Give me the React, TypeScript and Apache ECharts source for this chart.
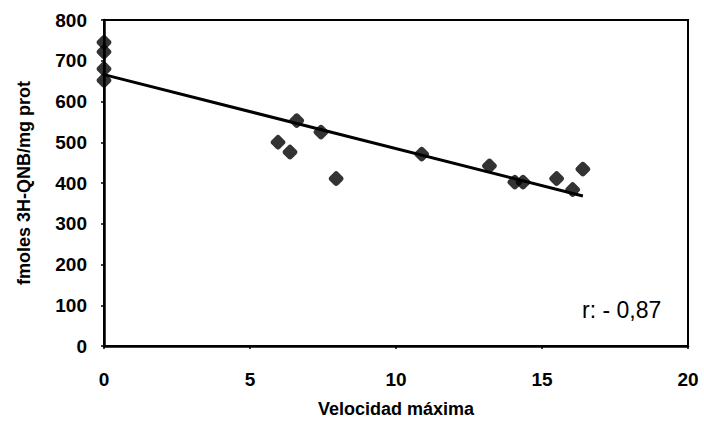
import React, { useEffect, useRef } from "react";
import * as echarts from "echarts";

const velocidad = [0, 0, 0, 0, 5.96, 6.37, 6.6, 7.43, 7.95, 10.88, 13.2, 14.07, 14.35, 15.5, 16.05, 16.4];
const fmoles = [745, 722, 680, 652, 500, 476, 553, 525, 411, 471, 442, 402, 402, 411, 384, 434];
const xTicks = [0, 5, 10, 15, 20];
const yTicks = [0, 100, 200, 300, 400, 500, 600, 700, 800];
const rLabel = "r: - 0,87";
const xTitle = "Velocidad máxima";
const yTitle = "fmoles 3H-QNB/mg prot";

function fit(xs: number[], ys: number[]) {
  const n = xs.length;
  const mx = xs.reduce((a, b) => a + b, 0) / n;
  const my = ys.reduce((a, b) => a + b, 0) / n;
  let sxy = 0, sxx = 0;
  for (let i = 0; i < n; i++) {
    sxy += (xs[i] - mx) * (ys[i] - my);
    sxx += (xs[i] - mx) * (xs[i] - mx);
  }
  const slope = sxy / sxx;
  return { slope, intercept: my - slope * mx };
}

export default function App() {
  const ref = useRef<HTMLDivElement>(null);
  useEffect(() => {
    if (!ref.current) return;
    const chart = echarts.init(ref.current, undefined, { renderer: "svg" });
    const { slope, intercept } = fit(velocidad, fmoles);
    const xMin = Math.min(...velocidad);
    const xMax = Math.max(...velocidad);
    const lineData = [
      [xMin, intercept + slope * xMin],
      [xMax, intercept + slope * xMax],
    ];
    const font = "'Liberation Sans', Arial, sans-serif";
    chart.setOption({
      animation: false,
      backgroundColor: "#fff",
      grid: {
        left: 104,
        right: 16,
        top: 20,
        bottom: 75,
        show: true,
        borderColor: "#000",
        borderWidth: 2,
      },
      xAxis: {
        type: "value",
        min: xTicks[0],
        max: xTicks[xTicks.length - 1],
        interval: 5,
        name: xTitle,
        nameLocation: "middle",
        nameGap: 54,
        nameTextStyle: { fontFamily: font, fontSize: 18, fontWeight: "bold", color: "#000" },
        axisLine: { show: true, onZero: false, lineStyle: { color: "#000", width: 2.5 } },
        axisTick: { show: true, length: 3, lineStyle: { color: "#000", width: 1.5 } },
        axisLabel: { fontFamily: font, fontSize: 19, fontWeight: "bold", color: "#000", margin: 24 },
        splitLine: { show: false },
      },
      yAxis: {
        type: "value",
        min: yTicks[0],
        max: yTicks[yTicks.length - 1],
        interval: 100,
        name: yTitle,
        nameLocation: "middle",
        nameGap: 71,
        nameTextStyle: { fontFamily: font, fontSize: 18, fontWeight: "bold", color: "#000" },
        axisLine: { show: true, onZero: false, lineStyle: { color: "#000", width: 2.5 } },
        axisTick: { show: true, length: 3, lineStyle: { color: "#000", width: 1.5 } },
        axisLabel: { fontFamily: font, fontSize: 19, fontWeight: "bold", color: "#000", margin: 17 },
        splitLine: { show: false },
      },
      series: [
        {
          type: "line",
          data: lineData,
          showSymbol: false,
          symbol: "none",
          lineStyle: { color: "#000", width: 3 },
          z: 2,
        },
        {
          type: "scatter",
          data: velocidad.map((v, i) => [v, fmoles[i]]),
          symbol: "roundRect",
          symbolSize: 12,
          symbolRotate: 45,
          itemStyle: { color: "#000" },
          z: 3,
        },
      ],
      graphic: [
        {
          type: "text",
          left: 582,
          top: 298,
          style: { text: rLabel, fontFamily: font, fontSize: 23, fill: "#000" },
        },
      ],
    });
    return () => chart.dispose();
  }, []);
  return (
    <div
      ref={ref}
      style={{ position: "fixed", left: 0, top: 0, width: 704, height: 423, background: "#fff" }}
    />
  );
}
